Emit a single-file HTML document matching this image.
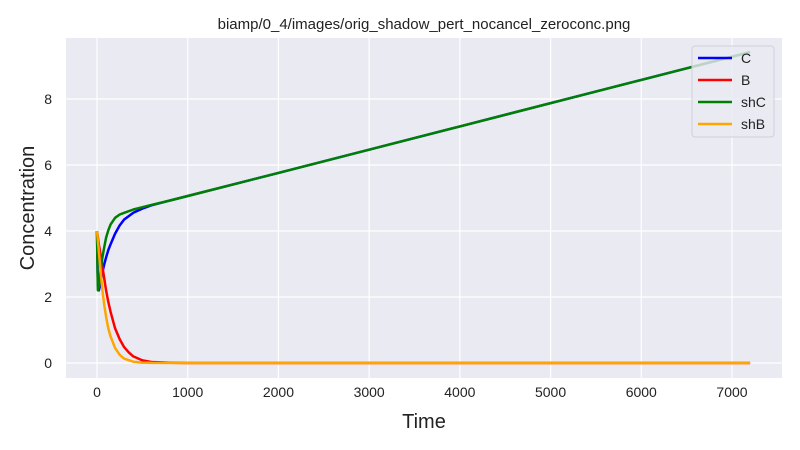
<!DOCTYPE html>
<html><head><meta charset="utf-8">
<style>
body{margin:0;background:#fff;}
svg{display:block;font-family:"Liberation Sans","DejaVu Sans",sans-serif;}
</style></head>
<body>
<svg id="chart" width="800" height="450">
<rect x="66" y="38" width="716" height="340" fill="#eaeaf2"/>
<g id="grid"></g>
<g id="series"></g>
<g id="axes"></g>
<text x="424" y="29" text-anchor="middle" font-size="15" fill="#222">biamp/0_4/images/orig_shadow_pert_nocancel_zeroconc.png</text>
<text x="424" y="428" text-anchor="middle" font-size="20" fill="#222">Time</text>
<text transform="translate(34,208) rotate(-90)" text-anchor="middle" font-size="20" fill="#222">Concentration</text>
<g>
<rect x="692" y="46" width="82" height="91" rx="3" fill="#eaeaf2" fill-opacity="0.8" stroke="#d0d0d8"/>
<g id="legend"></g>
</g>
</svg>
<script>
const xTicks=[0,1000,2000,3000,4000,5000,6000,7000];
const yTicks=[0,2,4,6,8];
const seriesNames=["C","B","shC","shB"];
const seriesColors=["#0000ff","#ff0000","#008000","#ffa500"];
const tC=[0,5,10,20,30,40,60,80,100,125,150,200,250,300,400,500,600,800,1000,2000,4000,6000,7200];
const vC=[4,3,2.35,2.2,2.3,2.45,2.75,3.0,3.2,3.42,3.6,3.92,4.17,4.35,4.55,4.68,4.78,4.92,5.06,5.76,7.17,8.58,9.42];
const tShC=[0,5,10,20,30,40,60,80,100,125,150,200,250,300,400,500,600,800,1000,2000,4000,6000,7200];
const vShC=[4,2.8,2.2,2.3,2.55,2.8,3.2,3.52,3.8,4.02,4.2,4.4,4.5,4.55,4.65,4.72,4.79,4.92,5.06,5.76,7.17,8.58,9.42];
const tB=[0,20,50,75,100,125,150,200,250,300,350,400,500,600,800,1000,7200];
const vB=[4,3.6,3.1,2.65,2.2,1.85,1.55,1.05,0.72,0.48,0.32,0.2,0.08,0.03,0.01,0,0];
const tShB=[0,20,40,60,80,100,125,150,200,250,300,400,500,600,1000,7200];
const vShB=[4,3.4,2.8,2.2,1.75,1.4,1.05,0.8,0.45,0.25,0.13,0.04,0.012,0.004,0,0];
const X=t=>97+t*(732-97)/7000;
const Y=v=>363-v*33;
const NS="http://www.w3.org/2000/svg";
function mk(tag,attrs,parent){const e=document.createElementNS(NS,tag);for(const k in attrs)e.setAttribute(k,attrs[k]);parent.appendChild(e);return e;}
const grid=document.getElementById('grid'),axes=document.getElementById('axes'),ser=document.getElementById('series'),leg=document.getElementById('legend');
xTicks.forEach(t=>{
 const l=mk('line',{x1:X(t),x2:X(t),y1:38,y2:378,stroke:'#fff','stroke-width':1.2},grid);
 
 
 const tx=mk('text',{x:X(t),y:397,'text-anchor':'middle','font-size':14,fill:'#222'},axes);
 tx.textContent=t;
 
 
});
yTicks.forEach(v=>{
 const l=mk('line',{x1:66,x2:782,y1:Y(v),y2:Y(v),stroke:'#fff','stroke-width':1.2},grid);
 
 
 const tx=mk('text',{x:52,y:Y(v)+5,'text-anchor':'end','font-size':14,fill:'#222'},axes);
 tx.textContent=v;
 
 
});
const data=[[tC,vC],[tB,vB],[tShC,vShC],[tShB,vShB]];
data.forEach((d,i)=>{
 const pts=d[0].map((t,j)=>X(t).toFixed(1)+','+Y(d[1][j]).toFixed(1)).join(' ');
 const p=mk('polyline',{points:pts,fill:'none',stroke:seriesColors[i],'stroke-width':2.5,'stroke-linejoin':'round'},ser);
 
 
 const ly=58+i*22;
 const ll=mk('line',{x1:698,x2:732,y1:ly,y2:ly,stroke:seriesColors[i],'stroke-width':2.5},leg);
 
 
 const lt=mk('text',{x:741,y:ly+5,'font-size':14,fill:'#222'},leg);
 lt.textContent=seriesNames[i];
 
 
});
</script>
</body></html>
